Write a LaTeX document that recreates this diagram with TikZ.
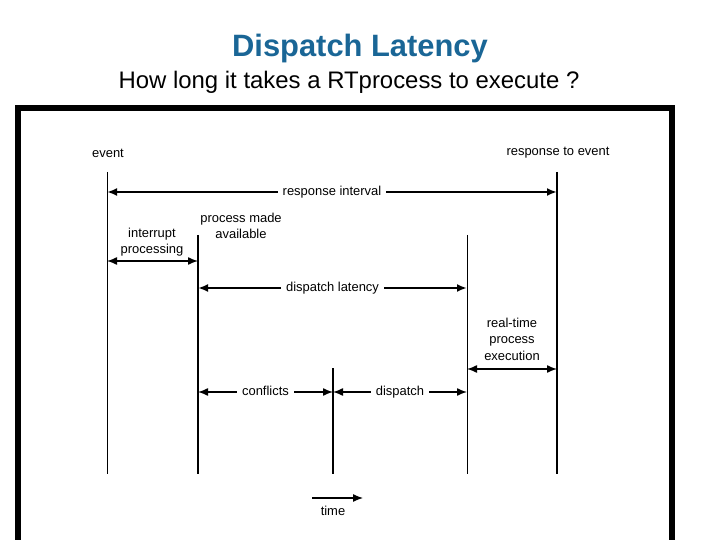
\documentclass[tikz,border=0pt]{standalone}
\usepackage{fontspec}
\setmainfont{Liberation Sans}
\usetikzlibrary{arrows.meta}
\definecolor{titleblue}{RGB}{26,102,150}

\begin{document}
\begin{tikzpicture}[x=1bp, y=-1bp,
  marker/.style={line width=1.8bp},
  thinmarker/.style={line width=0.9bp},
  span/.style={line width=1.4bp, {Latex[length=10bp,width=8bp]}-{Latex[length=10bp,width=8bp]}},
  bigspan/.style={span, line width=2.4bp},
  lbl/.style={font=\fontsize{13}{16.5}\selectfont, align=center, inner sep=1bp},
  gaplbl/.style={lbl, fill=white, inner xsep=5bp, text height=9bp, text depth=2.5bp}
]
\useasboundingbox (0,0) rectangle (720,540);

\node[font=\bfseries\fontsize{31}{31}\selectfont, text=titleblue] (title) at (360,49) {Dispatch Latency};
\node[font=\fontsize{24}{24}\selectfont] (subtitle) at (349,82) {How long it takes a RTprocess to execute ?};

% frame
\draw[line width=6bp, miter limit=10] (18,540) -- (18,108) -- (672,108) -- (672,540);

% time markers
\coordinate (xev) at (107,0);
\coordinate (xavail) at (198,0);
\coordinate (xconf) at (333,0);
\coordinate (xdisp) at (467,0);
\coordinate (xresp) at (557,0);
\coordinate (ytop) at (0,172);
\coordinate (ymid) at (0,235);
\coordinate (ylow) at (0,368);
\coordinate (ybot) at (0,474);

\draw[thinmarker] (xev |- ytop) -- (xev |- ybot);
\draw[marker] (xavail |- ymid) -- (xavail |- ybot);
\draw[marker] (xconf |- ylow) -- (xconf |- ybot);
\draw[thinmarker] (xdisp |- ymid) -- (xdisp |- ybot);
\draw[marker] (xresp |- ytop) -- (xresp |- ybot);

\node[lbl] (event) at (108,153) {event};
\node[lbl] (response) at (558,153) {response to event};
\node[lbl] (interrupt) at (152,242) {interrupt\\processing};
\node[lbl] (available) at (241,226) {process made\\available};
\node[lbl] (execution) at (512,339) {real-time\\process\\execution};

% intervals
\coordinate (yinterval) at (0,192);
\coordinate (yinterrupt) at (0,261);
\coordinate (ylatency) at (0,288);
\coordinate (yexec) at (0,369);
\coordinate (yphase) at (0,392);

\draw[bigspan] (xev |- yinterval) -- node[gaplbl] (interval) {response interval} (xresp |- yinterval);
\draw[span] (xev |- yinterrupt) -- (xavail |- yinterrupt);
\draw[bigspan] (xavail |- ylatency) -- node[gaplbl] (latency) {dispatch latency} (xdisp |- ylatency);
\draw[span] (xdisp |- yexec) -- (xresp |- yexec);
\draw[span] (xavail |- yphase) -- node[gaplbl] (conflicts) {conflicts} (xconf |- yphase);
\draw[span] (xconf |- yphase) -- node[gaplbl] (dispatch) {dispatch} (xdisp |- yphase);

% time axis
\coordinate (tstart) at (312,498);
\coordinate (tend) at (363,498);
\draw[line width=1.2bp, -{Latex[length=10bp,width=8bp]}] (tstart) -- (tend);
\node[lbl] (time) at (333,511) {time};

\end{tikzpicture}
\end{document}
